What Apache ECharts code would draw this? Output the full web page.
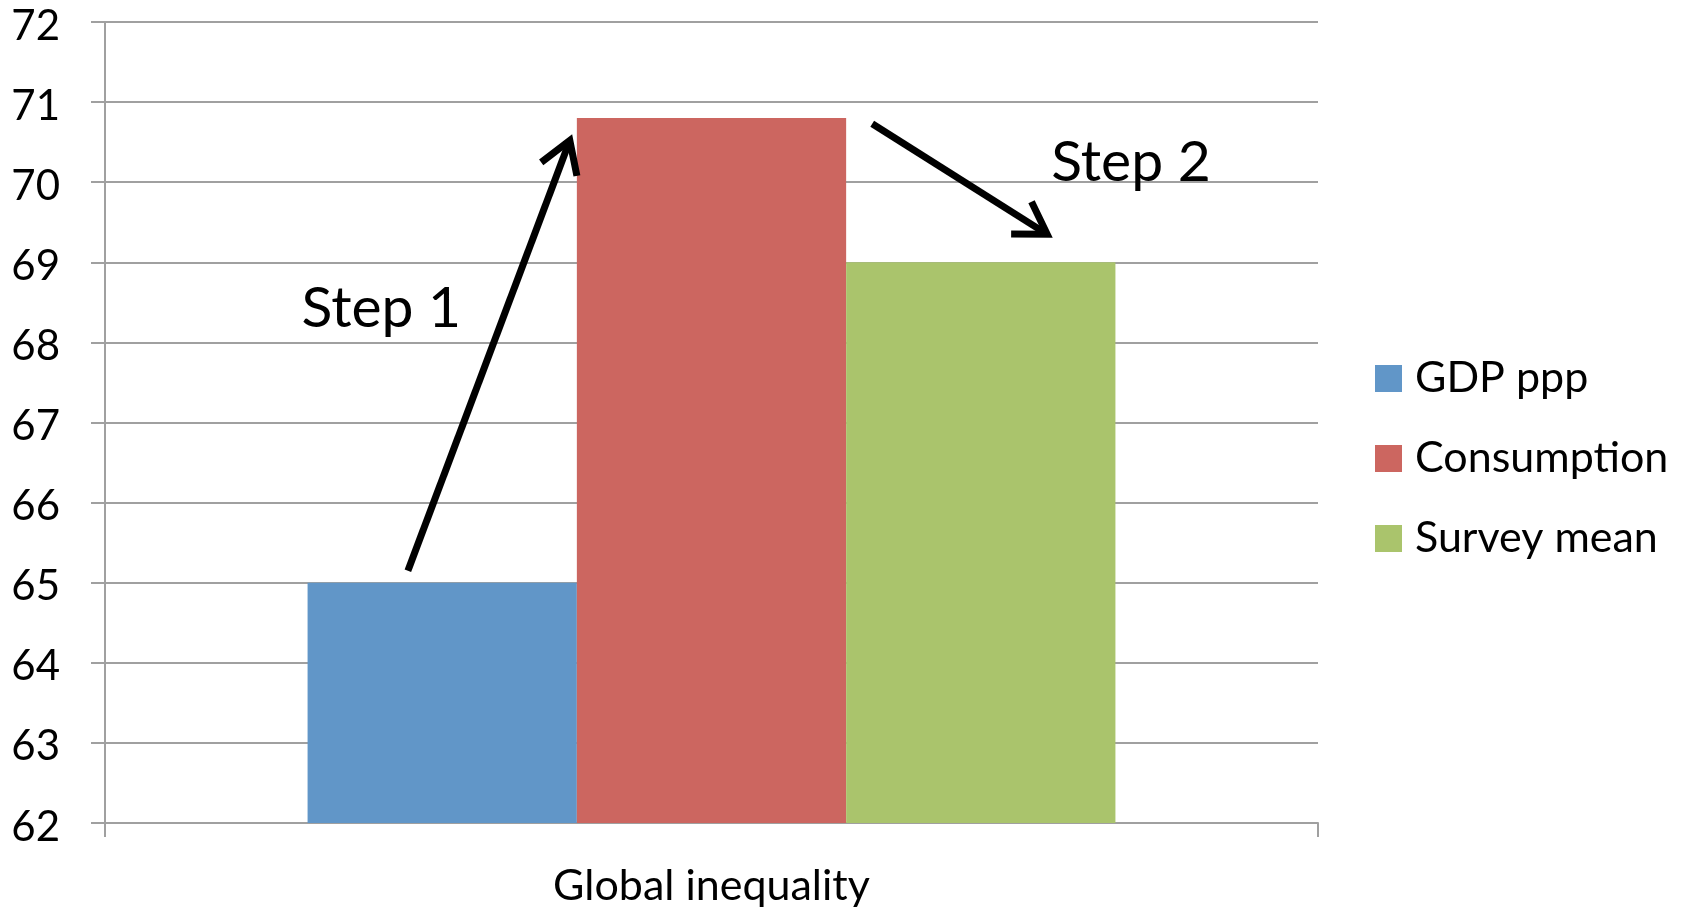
<!DOCTYPE html>
<html>
<head>
<meta charset="utf-8">
<script src="https://cdn.jsdelivr.net/npm/echarts@6/dist/echarts.min.js"></script>
<style>
html,body{margin:0;padding:0;background:#fff;}
#chart{width:1690px;height:911px;}
</style>
</head>
<body>
<div id="chart"></div>
<script>
var categories = ['Global inequality'];
var seriesNames = ['GDP ppp', 'Consumption', 'Survey mean'];
var gdpPpp = [65];
var consumption = [70.8];
var surveyMean = [69];
var yTicks = [62, 63, 64, 65, 66, 67, 68, 69, 70, 71, 72];
var colors = ['#6196C8', '#CC6660', '#AAC46C'];
// annotations: arrows given as [xFraction of plot, yValue] start -> tip
var arrow1 = [[0.2497, 65.15], [0.3832, 70.52]];
var arrow2 = [[0.6325, 70.73], [0.7767, 69.35]];
var stepLabels = ['Step 1', 'Step 2'];
var stepPos = [[0.162, 68.42], [0.78, 70.24]];

var FONT = 'Lato';
var chart = echarts.init(document.getElementById('chart'));
var gridLeft = 105, gridRight = 372, gridTop = 22, gridBottom = 88;
var option = {
  animation: false,
  color: colors,
  grid: {left: gridLeft, right: gridRight, top: gridTop, bottom: gridBottom, containLabel: false},
  legend: {
    orient: 'vertical', left: 1375, top: 357, padding: 0,
    itemWidth: 27, itemHeight: 27, itemGap: 37,
    icon: 'rect',
    data: seriesNames,
    textStyle: {fontFamily: FONT, fontSize: 43, color: '#000', padding: [0, 0, 0, 8]}
  },
  xAxis: {
    type: 'category', data: categories,
    axisLine: {lineStyle: {color: '#A0A0A0', width: 2}},
    axisTick: {show: true, length: 14, lineStyle: {color: '#A0A0A0', width: 2}},
    axisLabel: {fontFamily: FONT, fontSize: 43, color: '#000', margin: 42}
  },
  yAxis: {
    type: 'value', min: yTicks[0], max: yTicks[yTicks.length - 1], interval: 1,
    axisLine: {show: true, lineStyle: {color: '#A0A0A0', width: 2}},
    axisTick: {show: true, length: 14, lineStyle: {color: '#A0A0A0', width: 2}},
    splitLine: {lineStyle: {color: '#A0A0A0', width: 2}},
    axisLabel: {fontFamily: FONT, fontSize: 42, color: '#000', margin: 45, verticalAlign: 'top', padding: [-17, 0, 0, 0]}
  },
  series: [
    {name: seriesNames[0], type: 'bar', data: gdpPpp, barGap: '0%', barCategoryGap: '33.4%'},
    {name: seriesNames[1], type: 'bar', data: consumption, barGap: '0%', barCategoryGap: '33.4%'},
    {name: seriesNames[2], type: 'bar', data: surveyMean, barGap: '0%', barCategoryGap: '33.4%'}
  ]
};
chart.setOption(option);

function px(p) {
  var w = 1690 - gridLeft - gridRight;
  return [gridLeft + p[0] * w, chart.convertToPixel({yAxisIndex: 0}, p[1])];
}
function arrowEls(a) {
  var s = px(a[0]), t = px(a[1]);
  var dx = t[0] - s[0], dy = t[1] - s[1];
  var L = Math.sqrt(dx * dx + dy * dy);
  var ux = dx / L, uy = dy / L;
  var hl = 36, ang = 32 * Math.PI / 180;
  function rot(x, y, a) { return [x * Math.cos(a) - y * Math.sin(a), x * Math.sin(a) + y * Math.cos(a)]; }
  var b1 = rot(-ux, -uy, ang), b2 = rot(-ux, -uy, -ang);
  var style = {stroke: '#000', lineWidth: 7, fill: null, lineJoin: 'miter', lineCap: 'butt'};
  return [
    {type: 'line', shape: {x1: s[0], y1: s[1], x2: t[0] - ux * 3, y2: t[1] - uy * 3}, style: style, z: 100},
    {type: 'polyline', shape: {points: [[t[0] + b1[0] * hl, t[1] + b1[1] * hl], t, [t[0] + b2[0] * hl, t[1] + b2[1] * hl]]}, style: style, z: 100}
  ];
}
var els = [].concat(arrowEls(arrow1), arrowEls(arrow2));
stepLabels.forEach(function (txt, i) {
  var p = px(stepPos[i]);
  els.push({type: 'text', x: p[0], y: p[1], z: 100,
    style: {text: txt, fontFamily: FONT, fontSize: 57, fill: '#000', textAlign: 'left', textVerticalAlign: 'middle'}});
});
chart.setOption({graphic: els});
</script>
</body>
</html>
